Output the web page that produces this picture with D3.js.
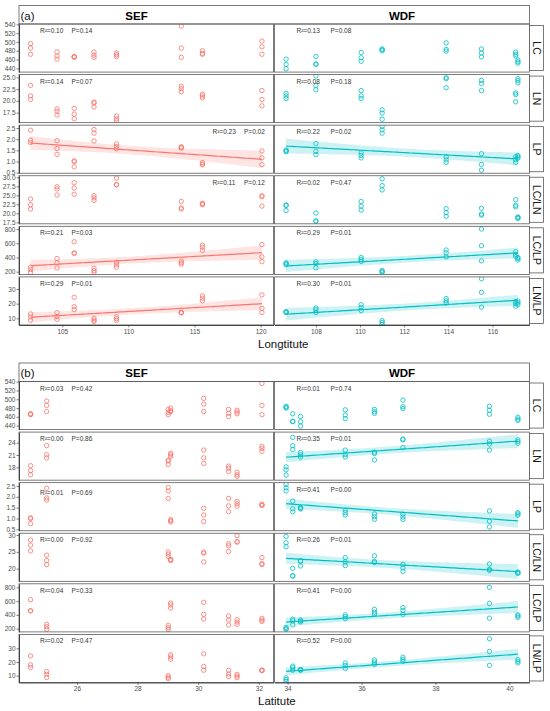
<!DOCTYPE html>
<html>
<head>
<meta charset="utf-8">
<script src="https://cdn.jsdelivr.net/npm/d3@7"></script>
<style>
body { margin: 0; background: #fff; }
svg { display: block; font-family: "Liberation Sans", Arial, sans-serif; }
</style>
</head>
<body>
<svg id="chart" width="550" height="711"></svg>
<script>
// site coordinates (8 sites per forest type)
const sefLon = [102.6, 104.6, 105.9, 107.4, 109.1, 114.0, 115.6, 120.1];
const sefLat = [25.0, 31.0, 24.47, 29.01, 31.28, 32.1, 29.09, 30.18];
const wdfLon = [106.65, 108.0, 110.05, 111.0, 113.9, 115.5, 117.05, 117.15];
const wdfLat = [34.35, 34.14, 35.56, 33.96, 37.12, 39.46, 36.35, 40.23];

// three replicates per site
const sefLC = [[496, 486, 472], [477, 468, 461], [467, 466, 465], [477, 470, 465], [475, 471, 467], [536, 486, 465], [480, 474, 472], [502, 489, 472]];
const sefLN = [[23.3, 21.05, 20.3], [18.3, 17.8, 17.0], [18.4, 17.2, 16.2], [19.75, 19.55, 18.7], [16.8, 16.2, 15.8], [23.1, 22.6, 21.9], [21.4, 21.05, 20.65], [22.2, 20.3, 18.95]];
const sefLP = [[2.40, 1.95, 1.85], [1.93, 1.58, 1.32], [1.03, 0.99, 0.76], [2.43, 2.27, 1.92], [1.79, 1.68, 1.57], [1.66, 1.62, 1.60], [0.95, 0.89, 0.85], [1.47, 1.16, 0.86]];
const sefLCLN = [[24.0, 22.4, 21.2], [27.4, 26.8, 25.1], [28.5, 27.0, 25.3], [24.9, 24.3, 23.6], [29.8, 28.0, 27.9], [23.3, 21.5, 21.2], [22.8, 22.6, 22.4], [24.9, 24.6, 22.0]];
const sefLCLP = [[263, 229, 190], [384, 326, 253], [621, 462, 457], [248, 214, 190], [330, 296, 263], [350, 325, 306], [572, 543, 500], [582, 408, 340]];
const sefLNLP = [[13.0, 11.0, 8.7], [13.9, 11.2, 9.3], [24.4, 17.9, 16.0], [10.0, 8.8, 7.8], [11.0, 9.8, 8.6], [14.1, 13.9, 13.7], [25.3, 23.7, 22.0], [26.0, 16.8, 14.0]];

const wdfLC = [[461, 449, 439], [467, 450, 449], [476, 464, 456], [484, 482, 480], [498, 483, 479], [484, 475, 466], [477, 472, 468], [459, 455, 452]];
const wdfLN = [[21.6, 21.05, 20.5], [25.3, 23.25, 22.35], [22.2, 21.05, 20.5], [18.1, 17.4, 16.1], [24.9, 24.7, 22.8], [24.35, 23.7, 22.2], [21.7, 21.35, 19.8], [24.7, 24.3, 23.85]];
const wdfLP = [[1.51, 1.47, 1.44], [1.80, 1.45, 1.31], [1.38, 1.27, 1.16], [2.57, 2.42, 2.27], [1.20, 1.07, 0.96], [1.35, 0.87, 0.61], [1.21, 1.08, 0.96], [1.27, 1.21, 1.15]];
const wdfLCLN = [[22.3, 22.2, 20.8], [20.1, 17.9, 17.8], [23.3, 22.0, 20.9], [29.6, 27.7, 26.5], [21.3, 20.2, 19.2], [21.4, 19.8, 19.5], [23.8, 22.2, 21.8], [19.0, 18.8, 18.6]];
const wdfLCLP = [[325, 310, 298], [338, 314, 255], [400, 374, 345], [218, 200, 190], [505, 465, 408], [800, 565, 352], [481, 441, 412], [400, 384, 364]];
const wdfLNLP = [[14.5, 14.3, 14.0], [17.0, 15.8, 14.0], [19.3, 17.5, 15.3], [8.4, 7.2, 5.9], [23.5, 22.0, 20.5], [37.0, 27.7, 17.6], [21.5, 20.0, 18.3], [21.8, 20.5, 19.3]];

const vars = ["LC", "LN", "LP", "LC/LN", "LC/LP", "LN/LP"];

// R² and P per variable
const r2ASef = ["0.10", "0.14", "0.23", "0.11", "0.21", "0.29"];
const pASef = ["0.14", "0.07", "0.02", "0.12", "0.03", "0.01"];
const r2AWdf = ["0.13", "0.08", "0.22", "0.02", "0.29", "0.30"];
const pAWdf = ["0.08", "0.18", "0.02", "0.47", "0.01", "0.01"];
const r2BSef = ["0.03", "0.00", "0.01", "0.00", "0.04", "0.02"];
const pBSef = ["0.42", "0.86", "0.69", "0.92", "0.33", "0.47"];
const r2BWdf = ["0.01", "0.35", "0.41", "0.26", "0.41", "0.52"];
const pBWdf = ["0.74", "0.01", "0.00", "0.01", "0.00", "0.00"];

// tick labels
const yTicksA = [[440, 460, 480, 500, 520, 540], [17.5, 20, 22.5, 25], [0.5, 1, 1.5, 2, 2.5], [17.5, 20, 22.5, 25, 27.5, 30], [200, 400, 600, 800], [10, 20, 30]];
const yTicksB = [[440, 460, 480, 500, 520, 540], [18, 21, 24], [0.5, 1, 1.5, 2, 2.5], [20, 25, 30], [200, 400, 600, 800], [10, 20, 30]];
const xTicksASef = [105, 110, 115, 120];
const xTicksAWdf = [108, 110, 112, 114, 116];
const xTicksBSef = [26, 28, 30, 32];
const xTicksBWdf = [34, 36, 38, 40];

// y ranges per row
const yDomA = [[431.5, 540.75], [15.38, 25.58], [0.474, 2.627], [17.09, 30.44], [161.6, 837.7], [5.47, 38.25]];
const yDomB = [[431.1, 540.4], [14.88, 26.58], [0.435, 2.654], [16.24, 30.52], [153, 851], [5.02, 40.19]];

const sefVals = [sefLC, sefLN, sefLP, sefLCLN, sefLCLP, sefLNLP];
const wdfVals = [wdfLC, wdfLN, wdfLP, wdfLCLN, wdfLCLP, wdfLNLP];
const colors = ["#F8766D", "#00BFC4"];

const svg = d3.select("#chart");
const colX = [[19, 273.5], [274.5, 529.5]];
const rowH = 48.08, rowGap = 2.5, headH = 18.5;
const borderCol = "#5a5a5a";

function tQuant(df) {
    const z = 1.959964;
    return z + (z ** 3 + z) / 4 / df
        + (5 * z ** 5 + 16 * z ** 3 + 3 * z) / 96 / df ** 2
        + (3 * z ** 7 + 19 * z ** 5 + 17 * z ** 3 - 15 * z) / 384 / df ** 3;
}

function linFit(pts) {
    const n = pts.length;
    const mx = d3.mean(pts, d => d[0]), my = d3.mean(pts, d => d[1]);
    const sxx = d3.sum(pts, d => (d[0] - mx) ** 2);
    const sxy = d3.sum(pts, d => (d[0] - mx) * (d[1] - my));
    const b = sxy / sxx, a = my - b * mx;
    const s = Math.sqrt(d3.sum(pts, d => (d[1] - a - b * d[0]) ** 2) / (n - 2));
    const t = tQuant(n - 2);
    const ext = d3.extent(pts, d => d[0]);
    return d3.range(81).map(k => {
        const xv = ext[0] + (ext[1] - ext[0]) * k / 80;
        const yh = a + b * xv;
        const se = s * Math.sqrt(1 / n + (xv - mx) ** 2 / sxx);
        return { x: xv, y: yh, lo: yh - t * se, hi: yh + t * se };
    });
}

function fmtTick(ticks) {
    const dec = ticks.some(v => v % 1 !== 0);
    return v => dec ? v.toFixed(1) : String(v);
}

function drawPanel(p) {
    const g = svg.append("g");

    g.append("rect")
        .attr("x", colX[0][0]).attr("y", p.top)
        .attr("width", colX[1][1] - colX[0][0]).attr("height", headH)
        .attr("fill", "#fff").attr("stroke", borderCol).attr("stroke-width", 0.8);
    g.append("text").attr("x", 20.5).attr("y", p.top + 14)
        .attr("font-size", 11.5).attr("fill", "#111").text(p.tag);
    g.append("text").attr("x", 136.5).attr("y", p.top + 14.3)
        .attr("text-anchor", "middle").attr("font-size", 11.5).attr("font-weight", "bold").text("SEF");
    g.append("text").attr("x", (colX[1][0] + colX[1][1]) / 2).attr("y", p.top + 14.3)
        .attr("text-anchor", "middle").attr("font-size", 11.5).attr("font-weight", "bold").text("WDF");

    const rowsTop = p.top + headH;
    const bottom = rowsTop + 6 * rowH + 5 * rowGap;

    [0, 1].forEach(c => {
        const xs = p.xs[c];
        const ext = d3.extent(xs);
        const pad = (ext[1] - ext[0]) * 0.05;
        const x = d3.scaleLinear().domain([ext[0] - pad, ext[1] + pad]).range(colX[c]);
        const vals = c === 0 ? sefVals : wdfVals;

        vars.forEach((v, r) => {
            const y0 = rowsTop + r * (rowH + rowGap);
            const y = d3.scaleLinear().domain(p.yDom[r]).range([y0 + rowH, y0]);
            const cell = g.append("g");
            const clipId = "clip-" + p.key + c + r;

            cell.append("clipPath").attr("id", clipId)
                .append("rect").attr("x", colX[c][0]).attr("y", y0)
                .attr("width", colX[c][1] - colX[c][0]).attr("height", rowH);

            const pts = [];
            vals[r].forEach((arr, i) => arr.forEach(val => pts.push([xs[i], val])));

            const plot = cell.append("g").attr("clip-path", "url(#" + clipId + ")");

            if (+p.pv[c][r] < 0.05) {
                const fit = linFit(pts);
                plot.append("path").datum(fit)
                    .attr("d", d3.area().x(d => x(d.x)).y0(d => y(d.lo)).y1(d => y(d.hi)))
                    .attr("fill", colors[c]).attr("opacity", 0.2);
                plot.append("path").datum(fit)
                    .attr("d", d3.line().x(d => x(d.x)).y(d => y(d.y)))
                    .attr("fill", "none").attr("stroke", colors[c]).attr("stroke-width", 1.2);
            }

            plot.selectAll("circle").data(pts).enter().append("circle")
                .attr("cx", d => x(d[0])).attr("cy", d => y(d[1]))
                .attr("r", 2.2).attr("fill", "none")
                .attr("stroke", colors[c]).attr("stroke-width", 0.8);

            cell.append("rect")
                .attr("x", colX[c][0]).attr("y", y0)
                .attr("width", colX[c][1] - colX[c][0]).attr("height", rowH)
                .attr("fill", "none").attr("stroke", borderCol).attr("stroke-width", 0.8);

            // R² and P labels
            const key = p.key + c + r;
            const right = key === "a02" || key === "a03";
            const lx = right ? colX[c][1] - 61 : colX[c][0] + (c === 0 ? 21 : 22);
            const px = right ? colX[c][1] - 29.5 : colX[c][0] + (c === 0 ? 52.5 : 56);
            const ly = y0 + (key === "b02" ? 12.5 : 9);
            cell.append("text").attr("x", lx).attr("y", ly)
                .attr("font-size", 6.5).attr("fill", "#333").text("R²=" + p.r2[c][r]);
            cell.append("text").attr("x", px).attr("y", ly)
                .attr("font-size", 6.5).attr("fill", "#333").text("P=" + p.pv[c][r]);

            if (c === 0) {
                const ax = cell.append("g").attr("transform", "translate(" + colX[0][0] + ",0)")
                    .call(d3.axisLeft(y).tickValues(p.yTicks[r]).tickFormat(fmtTick(p.yTicks[r]))
                        .tickSize(2.5).tickSizeOuter(0).tickPadding(1));
                ax.select(".domain").attr("stroke", "#333").attr("stroke-width", 0.9);
                ax.selectAll(".tick line").attr("stroke", "#333").attr("stroke-width", 0.6);
                ax.selectAll(".tick text").attr("font-size", 6.5).attr("fill", "#4d4d4d")
                    .attr("font-family", "Liberation Sans, Arial, sans-serif");
            } else {
                cell.append("rect")
                    .attr("x", colX[1][1]).attr("y", y0 + 1.5)
                    .attr("width", 14).attr("height", rowH - 3)
                    .attr("fill", "#fff").attr("stroke", borderCol).attr("stroke-width", 0.8);
                cell.append("text")
                    .attr("transform", "translate(" + (colX[1][1] + 7) + "," + (y0 + rowH / 2) + ") rotate(90)")
                    .attr("text-anchor", "middle").attr("dy", "0.35em")
                    .attr("font-size", 10.5).attr("fill", "#1a1a1a").text(v);
            }
        });

        const xa = g.append("g").attr("transform", "translate(0," + bottom + ")")
            .call(d3.axisBottom(x).tickValues(p.xTicks[c]).tickFormat(d3.format("d"))
                .tickSize(2.5).tickSizeOuter(0).tickPadding(1.5));
        xa.select(".domain").attr("stroke", "#333").attr("stroke-width", 0.9);
        xa.selectAll(".tick line").attr("stroke", "#333").attr("stroke-width", 0.6);
        xa.selectAll(".tick text").attr("font-size", 6.5).attr("fill", "#4d4d4d")
            .attr("font-family", "Liberation Sans, Arial, sans-serif");
    });

    g.append("text").attr("x", 258).attr("y", p.labelY)
        .attr("font-size", 11.5).attr("fill", "#111").text(p.xlabel);
}

drawPanel({
    key: "a", tag: "(a)", top: 5.5, labelY: 347.5, xlabel: "Longtitute",
    xs: [sefLon, wdfLon], xTicks: [xTicksASef, xTicksAWdf],
    yDom: yDomA, yTicks: yTicksA,
    r2: [r2ASef, r2AWdf], pv: [pASef, pAWdf]
});

drawPanel({
    key: "b", tag: "(b)", top: 363, labelY: 705, xlabel: "Latitute",
    xs: [sefLat, wdfLat], xTicks: [xTicksBSef, xTicksBWdf],
    yDom: yDomB, yTicks: yTicksB,
    r2: [r2BSef, r2BWdf], pv: [pBSef, pBWdf]
});
</script>
</body>
</html>
